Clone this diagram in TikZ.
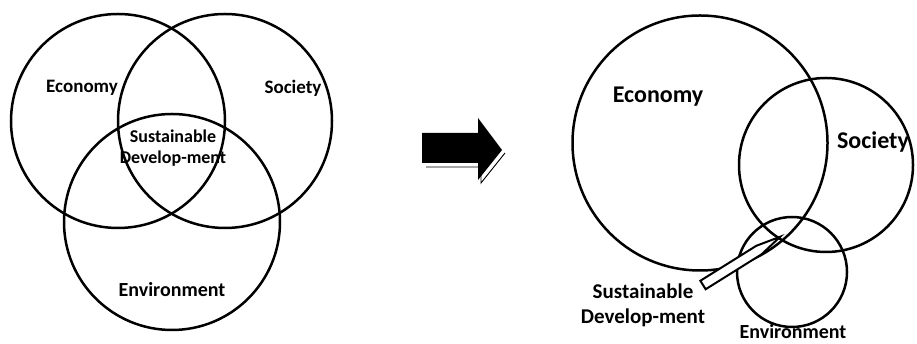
\documentclass[tikz,border=0pt]{standalone}
\usepackage{fontspec}
\setmainfont{Carlito}

\tikzstyle{ring} = [draw, circle, line width=2.5pt, inner sep=0pt]
\tikzstyle{word} = [font=\bfseries\fontsize{19}{21}\selectfont, align=center, inner sep=1pt]
\tikzstyle{bigword} = [font=\bfseries\fontsize{24}{26}\selectfont, align=center, inner sep=1pt]
\tikzstyle{midword} = [font=\bfseries\fontsize{21}{25}\selectfont, align=center, inner sep=1pt]

\begin{document}
\begin{tikzpicture}[x=1pt, y=1pt]
\useasboundingbox (0,0) rectangle (917,344);

\node[ring, minimum size=214pt] (eco) at (118,223) {};
\node[ring, minimum size=214pt] (soc) at (225,223) {};
\node[ring, minimum size=216pt] (env) at (172,122) {};
\node[word] (ecotext) at (82,256) {Economy};
\node[word] (soctext) at (293,256) {Society};
\node[word, font=\bfseries\fontsize{18}{21}\selectfont] (sdtext) at (173,196) {Sustainable\\Develop-ment};
\node[word, font=\bfseries\fontsize{20}{22}\selectfont] (envtext) at (172,54) {Environment};

\draw[line width=0.9pt] (426,177) -- (481,177) -- (481,161) -- (505,191);
\fill (422,181) -- (478,181) -- (478,164) -- (502,194) -- (478,226) -- (478,211) -- (422,211) -- cycle;

\node[ring, minimum size=255pt] (neweco) at (700,201) {};
\node[ring, minimum size=174pt] (newsoc) at (826,179) {};
\node[ring, minimum size=110pt] (newenv) at (792,72) {};
\node[bigword] (newecotext) at (658,247) {Economy};
\node[bigword] (newsoctext) at (873,202) {Society};
\node[midword] (newsd) at (643,39) {Sustainable\\Develop-ment};
\node[midword, font=\bfseries\fontsize{20}{22}\selectfont] (newenvtext) at (793,12) {Environment};

\coordinate (sdbase) at (703,59);
\coordinate (sdtip) at (780,107);
\begin{scope}[shift={(sdbase)}, rotate=32]
\draw[line width=2pt, fill=white] (0,-5) -- (66,-5) -- (91,0) -- (66,5) -- (0,5) -- cycle;
\end{scope}
\end{tikzpicture}
\end{document}
